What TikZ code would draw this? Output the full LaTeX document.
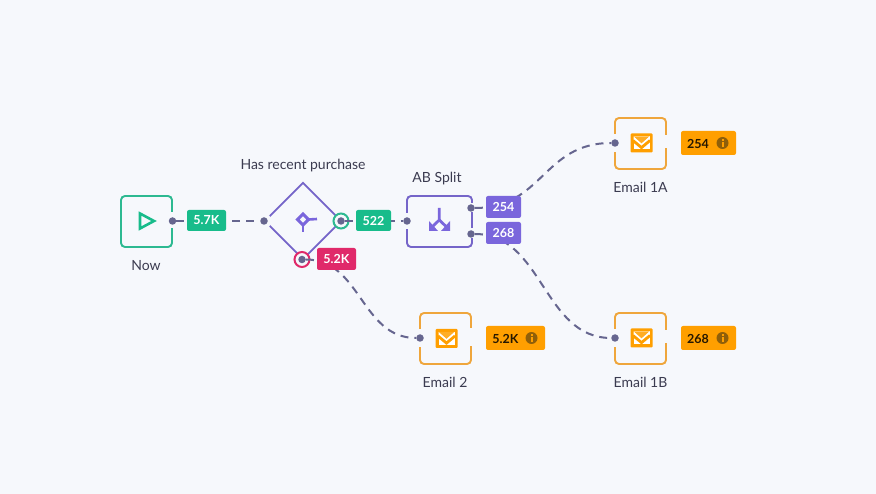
\documentclass[tikz,border=0pt]{standalone}
\usepackage{fontspec}
\setmainfont{Lato}
\usetikzlibrary{shapes.geometric,calc}
\definecolor{pagebg}{HTML}{F6F8FC}
\definecolor{grn}{HTML}{18BC8B}
\definecolor{grnline}{HTML}{2DB991}
\definecolor{pur}{HTML}{7A66DC}
\definecolor{purline}{HTML}{7565C9}
\definecolor{rd}{HTML}{E0296A}
\definecolor{org}{HTML}{FF9F00}
\definecolor{orgline}{HTML}{EFA63C}
\definecolor{wire}{HTML}{66668F}
\definecolor{ink}{HTML}{3B3B50}
\definecolor{infoc}{HTML}{8F5F0A}
\tikzset{
  nodebox/.style={draw,line width=1.9pt,rounded corners=4pt,minimum width=51pt,minimum height=51pt,inner sep=0pt},
  portdot/.style={circle,fill=wire,minimum size=7.5pt,inner sep=0pt},
  ring/.style={circle,draw,fill=pagebg,line width=2pt,minimum size=15pt,inner sep=0pt},
  wirepath/.style={draw=wire,line width=2pt,dash pattern=on 8pt off 6pt},
  gapline/.style={draw=pagebg,line width=3.5pt},
  tag/.style={rounded corners=2pt,inner sep=0pt,font=\fontsize{12.5}{15}\selectfont\bfseries,text=white},
  otag/.style={tag,fill=org,text=black!85!org,minimum height=24pt},
  captext/.style={font=\fontsize{14}{16}\selectfont,text=ink,inner sep=0pt},
  infomark/.style={circle,fill=infoc,minimum size=12pt,inner sep=0pt},
}
\newcommand{\mailicon}[2]{%
  \begin{scope}[shift={(#1,#2)}]
    \fill[org,rounded corners=1pt] (-11,-9.5) rectangle (11,9.5);
    \fill[white] (-8,-6.5) rectangle (8,6.5);
    \fill[org!85!white] (-8,-6.5) -- (8,-6.5) -- (0,1) -- cycle;
    \fill[white] (-8,-6.5) -- (0,0.5) -- (8,-6.5) -- (8,-3) -- (0,4) -- (-8,-3) -- cycle;
    \draw[org,line width=2.8pt,line join=miter] (-8.5,-2.5) -- (0,4.6) -- (8.5,-2.5);
  \end{scope}}
\newcommand{\infodot}[1]{%
  \fill[org] ($(#1)+(-1,-3.6)$) rectangle ($(#1)+(1,-1.7)$);
  \fill[org] ($(#1)+(-1,-0.8)$) rectangle ($(#1)+(1,3.8)$);}
\begin{document}
\begin{tikzpicture}[x=1pt,y=-1pt]
\useasboundingbox (0,0) rectangle (876,494);
\fill[pagebg] (0,0) rectangle (876,494);
% boxes
\node[nodebox,draw=grnline] (now) at (146.5,221.5) {};
\node[diamond,draw=purline,line width=1.9pt,aspect=1,minimum width=77pt,minimum height=77pt,inner sep=0pt] (dec) at (303,221) {};
\node[nodebox,draw=purline,minimum width=65pt] (ab) at (439.5,221.5) {};
\node[nodebox,draw=orgline] (e2) at (445.5,338.5) {};
\node[nodebox,draw=orgline] (e1a) at (640.5,143.5) {};
\node[nodebox,draw=orgline] (e1b) at (640.5,338.5) {};
% gaps in the outlines
\path[gapline] (172,212.5) -- (172,228.5);
\fill[pagebg] (264,221) circle (7.5pt);
\path[gapline] (407,213) -- (407,229);
\path[gapline] (472,203.5) -- (472,212.5);
\path[gapline] (472,228.5) -- (472,238.5);
\path[gapline] (420,329) -- (420,347);
\path[gapline] (471,328) -- (471,346);
\path[gapline] (615,134) -- (615,152);
\path[gapline] (666,135) -- (666,148);
\path[gapline] (615,329) -- (615,347);
\path[gapline] (666,330) -- (666,343);
% rings and ports
\node[ring,draw=grnline] (ygr) at (341,221) {};
\node[ring,draw=rd] (nrd) at (302,259.5) {};
\node[portdot] (p1) at (172.5,221) {};
\node[portdot] (p2) at (264,221) {};
\node[portdot] (p3) at (341,221) {};
\node[portdot] (p4) at (302,259.5) {};
\node[portdot] (p5) at (407,221) {};
\node[portdot] (p6) at (471,208) {};
\node[portdot] (p7) at (471,234) {};
\node[portdot] (p8) at (420,338) {};
\node[portdot] (p9) at (615,143) {};
\node[portdot] (p10) at (615,338) {};
% connectors
\draw[wirepath] (p1) -- (p2);
\draw[wirepath] (p3) -- (p5);
\draw[wirepath] (p6) .. controls (543,208) and (543,143) .. (p9);
\draw[wirepath] (p7) .. controls (543,234) and (543,338) .. (p10);
\draw[wirepath] (p4) .. controls (361,259.5) and (361,338) .. (p8);
% tags
\node[tag,fill=grn,minimum width=39pt,minimum height=21pt] (t57) at (206.5,220.5) {5.7K};
\node[tag,fill=grn,minimum width=35pt,minimum height=21pt] (t522) at (373.5,220.5) {522};
\node[tag,fill=rd,minimum width=39pt,minimum height=22pt] (t52) at (336.5,259) {5.2K};
\node[tag,fill=pur,minimum width=35pt,minimum height=22pt] (t254) at (503.5,207) {254};
\node[tag,fill=pur,minimum width=35pt,minimum height=22pt] (t268) at (503.5,233) {268};
\node[otag,minimum width=55pt] (o1) at (708.5,143) {};
\node[tag,text=black!85!org] (o1t) at (698,143.5) {254};
\node[infomark] (i1) at (722.5,143) {};
\node[otag,minimum width=59pt] (o2) at (515.5,338) {};
\node[tag,text=black!85!org] (o2t) at (505.5,338.5) {5.2K};
\node[infomark] (i2) at (531.5,338) {};
\node[otag,minimum width=55pt] (o3) at (708.5,338) {};
\node[tag,text=black!85!org] (o3t) at (698,338.5) {268};
\node[infomark] (i3) at (722.5,338) {};
\infodot{i1}\infodot{i2}\infodot{i3}
% captions
\node[captext] (lnow) at (146,265.5) {Now};
\node[captext] (ldec) at (303,165.5) {Has recent purchase};
\node[captext] (lab) at (437,178.5) {AB Split};
\node[captext] (le2) at (445,382.5) {Email 2};
\node[captext] (le1a) at (640.5,187.5) {Email 1A};
\node[captext] (le1b) at (640.5,382.5) {Email 1B};
% icons
\draw[grn,line width=2.6pt,line join=miter] (140,213.5) -- (154,221) -- (140,228.5) -- cycle;
\draw[pur,line width=3pt] (303,214) -- (308.5,219.5) -- (303,225) -- (297.5,219.5) -- cycle;
\draw[pur,line width=2.6pt] (308.5,219.5) -- (317,219);
\draw[pur,line width=2.6pt] (303,225) -- (303,232.5);
\draw[pur,line width=2.8pt] (439.3,208) -- (439.3,220) -- (432,227);
\draw[pur,line width=2.8pt] (439.3,220) -- (446.6,227);
\fill[pur] (429,221) -- (429,231) -- (438,231) -- cycle;
\fill[pur] (450,221) -- (450,231) -- (441,231) -- cycle;
\mailicon{641.5}{143}
\mailicon{446.5}{338.5}
\mailicon{641.5}{338}
\end{tikzpicture}
\end{document}
